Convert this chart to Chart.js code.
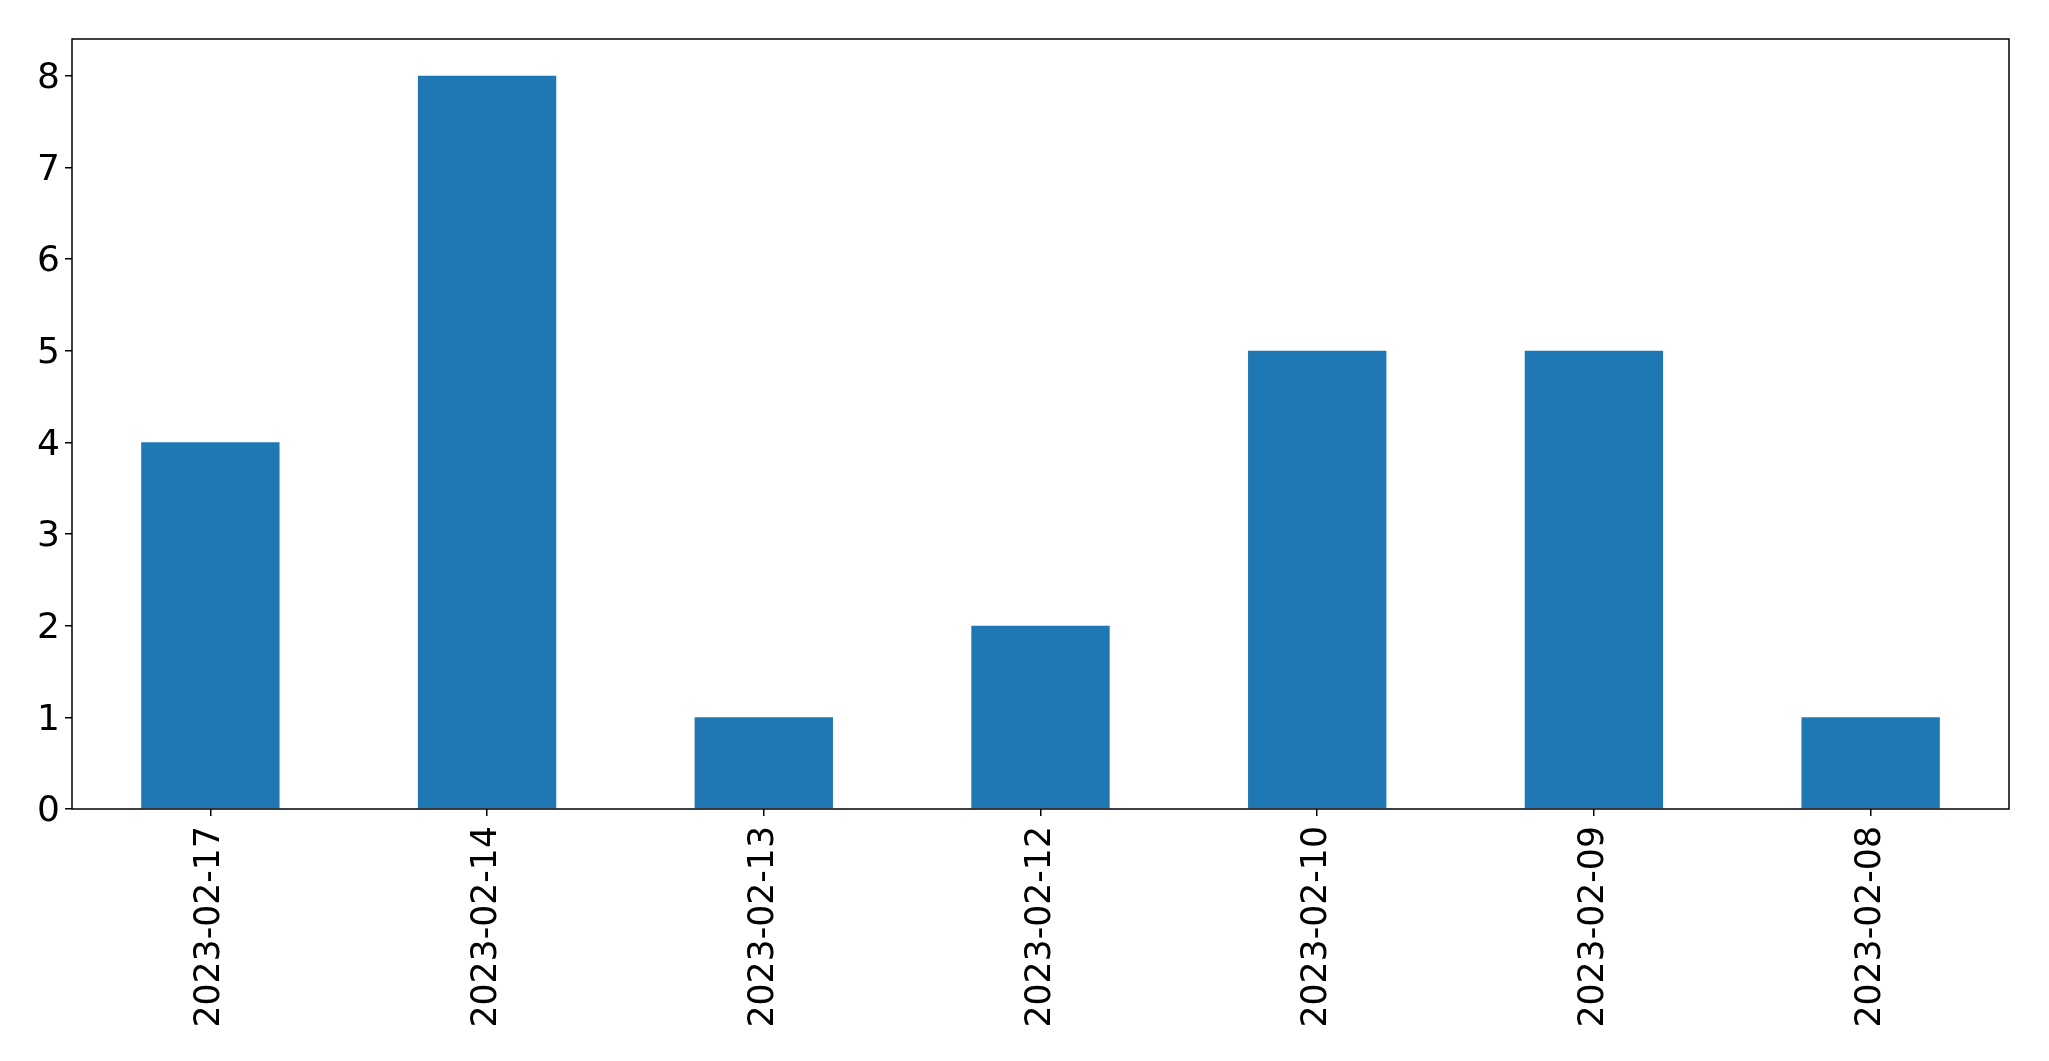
<!DOCTYPE html>
<html>
<head>
<meta charset="utf-8">
<script src="https://cdn.jsdelivr.net/npm/chart.js@4"></script>
<style>
  html, body { margin: 0; padding: 0; background: #fff; }
  canvas { display: block; }
</style>
</head>
<body>
<canvas id="barChart" width="2049" height="1061"></canvas>
<script>
const dates = ["2023-02-17", "2023-02-14", "2023-02-13", "2023-02-12", "2023-02-10", "2023-02-09", "2023-02-08"];
const counts = [4, 8, 1, 2, 5, 5, 1];
const yMax = 8.4;

// box around the plot area, like matplotlib spines
const frame = {
  id: "frame",
  afterDraw(chart) {
    const { ctx, chartArea: a } = chart;
    ctx.save();
    ctx.strokeStyle = "#000";
    ctx.lineWidth = 1.5;
    ctx.strokeRect(a.left, a.top, a.right - a.left, a.bottom - a.top);
    ctx.restore();
  }
};

new Chart(document.getElementById("barChart"), {
  type: "bar",
  data: {
    labels: dates,
    datasets: [{
      data: counts,
      backgroundColor: "#1f77b4",
      barPercentage: 0.5,
      categoryPercentage: 1
    }]
  },
  options: {
    responsive: false,
    animation: false,
    devicePixelRatio: 1,
    layout: { padding: { top: 39, right: 40, left: 0, bottom: 0 } },
    plugins: { legend: { display: false }, tooltip: { enabled: false } },
    scales: {
      x: {
        grid: { drawOnChartArea: false, offset: false, tickLength: 7, color: "#000", lineWidth: 1.5 },
        border: { display: false },
        ticks: {
          color: "#000", font: { family: "DejaVu Sans", size: 34.7 },
          minRotation: 90, maxRotation: 90, padding: 10, autoSkip: false
        },
        afterFit(scale) { scale.height = 252; }
      },
      y: {
        min: 0,
        max: yMax,
        grid: { drawOnChartArea: false, tickLength: 7, color: "#000", lineWidth: 1.5 },
        border: { display: false },
        ticks: {
          color: "#000", font: { family: "DejaVu Sans", size: 36 },
          stepSize: 1, includeBounds: false, padding: 5, labelOffset: 3
        },
        afterFit(scale) { scale.width = 72; }
      }
    }
  },
  plugins: [frame]
});
</script>
</body>
</html>
